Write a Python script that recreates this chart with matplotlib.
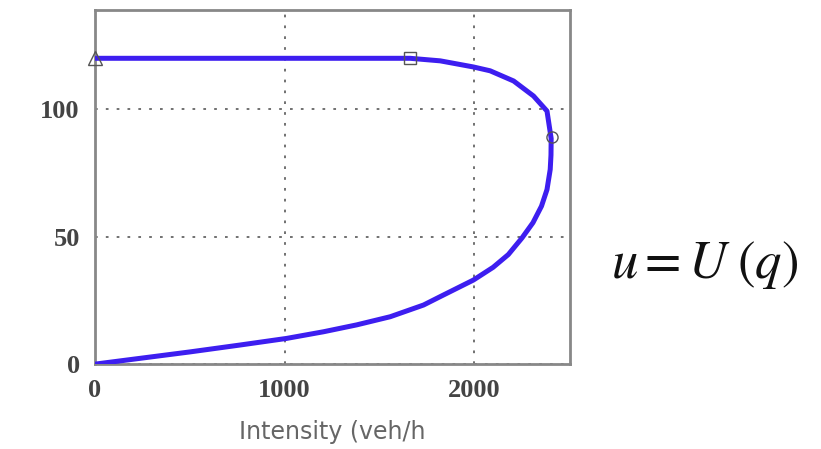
import matplotlib
matplotlib.use("Agg")
import matplotlib.pyplot as plt
import numpy as np

# speed-flow curve: q (veh/h), u (km/h)
flow = [0, 501, 765, 1011, 1205, 1380, 1557, 1733, 1821, 1996, 2100, 2180,
        2252, 2310, 2355, 2384, 2401, 2405, 2406, 2384, 2313, 2208, 2084,
        1996, 1821, 1662, 0]
speed = [0, 4.8, 7.5, 10.1, 12.7, 15.4, 18.6, 23.2, 26.5, 33, 38, 43,
         49.5, 55.5, 62, 68.5, 76.4, 82, 88.5, 99.3, 105.2, 111.1, 115.1,
         116.6, 119, 120, 120]

# marked points
tri_q, tri_u = [0], [120]
sq_q, sq_u = [1662], [120]
circ_q, circ_u = [2410], [89]

x_ticks = [0, 1000, 2000]
y_ticks = [0, 50, 100]

fig = plt.figure(figsize=(8.21, 4.49), dpi=100)
ax = fig.add_axes([0.1157, 0.189, 0.5785, 0.789])

ax.plot(flow, speed, color="#3d1ef0", linewidth=3.6, solid_capstyle="round",
        solid_joinstyle="round", zorder=3)
ax.plot(tri_q, tri_u, marker="^", markersize=10, markerfacecolor="none",
        markeredgecolor="#555555", linestyle="none", zorder=4, clip_on=False)
ax.plot(sq_q, sq_u, marker="s", markersize=9, markerfacecolor="none",
        markeredgecolor="#555555", linestyle="none", zorder=4)
ax.plot(circ_q, circ_u, marker="o", markersize=8, markerfacecolor="none",
        markeredgecolor="#555555", linestyle="none", zorder=4, clip_on=False)

ax.set_xlim(0, 2505)
ax.set_ylim(0, 139)
ax.set_xticks(x_ticks)
ax.set_yticks(y_ticks)
ax.set_xticklabels([str(t) for t in x_ticks], fontfamily="Liberation Serif",
                   fontweight="bold", fontsize=19, color="#444444")
ax.set_yticklabels([str(t) for t in y_ticks], fontfamily="Liberation Serif",
                   fontweight="bold", fontsize=19, color="#444444")
ax.tick_params(length=0, pad=11)
ax.grid(True, linestyle=(0, (1.5, 4.5)), color="#666666", linewidth=1.3, zorder=0)

for s in ax.spines.values():
    s.set_color("#888888")
    s.set_linewidth(2)

ax.set_xlabel("Intensity (veh/h", fontfamily="DejaVu Sans", fontsize=17,
              color="#666666", labelpad=13)

plt.rcParams["mathtext.fontset"] = "stix"
fig.text(0.858, 0.41, r"$u = U\;\left(q\right)$", fontsize=38, ha="center", va="center",
         color="#111111")

fig.savefig("out.png", dpi=100)
